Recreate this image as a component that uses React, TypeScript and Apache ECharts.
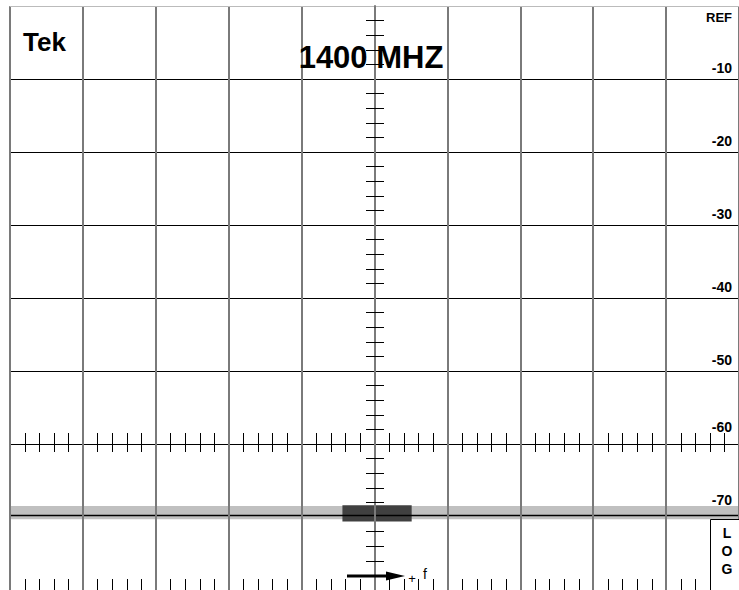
import React, { useEffect, useRef } from 'react';
import * as echarts from 'echarts';

// ---- data ----
const freqDivMin = 0;
const freqDivMax = 10;
const minorPerDiv = 5;
const levelMin = -80;
const levelMax = 0;
const levelStep = 10;
const midTickLevel = -60;
const levelTickLabels: Record<string, string> = {
  '-10': '-10', '-20': '-20', '-30': '-30', '-40': '-40', '-50': '-50', '-60': '-60', '-70': '-70',
};
const raisedLabels = ['-60', '-70'];
const traceX = [0, 10];
const traceDb = [-69.8, -69.8];
const noiseBandDb = [-68.5, -70.3];
const signalDiv = [4.56, 5.51];
const signalDb = [-68.4, -70.6];
const brandLabel = 'Tek';
const centerFreqLabel = '1400 MHZ';
const refLabel = 'REF';
const scaleLabel = ['L', 'O', 'G'];
const freqArrowLabel = ['+', 'f'];

const FONT = '"Liberation Sans", Arial, Helvetica, sans-serif';

export default function App() {
  const ref = useRef<HTMLDivElement>(null);
  useEffect(() => {
    const chart = echarts.init(ref.current!, null, { renderer: 'svg' });
    const baseY = {
      type: 'value' as const,
      min: levelMin,
      max: levelMax,
      interval: levelStep,
      axisLabel: { show: false },
      axisTick: { show: false },
      splitLine: { show: false },
    };
    const option: any = {
      animation: false,
      textStyle: { fontFamily: FONT },
      grid: { left: 10, top: 6, width: 730, height: 584, containLabel: false },
      xAxis: [
        {
          type: 'value',
          min: freqDivMin,
          max: freqDivMax,
          interval: 1,
          position: 'bottom',
          z: 4,
          axisLabel: { show: false },
          axisTick: { show: false },
          axisLine: { show: true, lineStyle: { color: '#bbbbbb', width: 1 } },
          splitLine: { show: true, lineStyle: { color: '#7a7a7a', width: 2 } },
        },
      ],
      yAxis: [
        {
          ...baseY,
          position: 'right',
          z: 0,
          axisLine: { show: false },
          splitLine: { show: true, lineStyle: { color: '#000', width: 1 } },
        },
        {
          ...baseY,
          position: 'left',
          offset: -365,
          z: 5,
          axisLine: { show: true, lineStyle: { color: '#7a7a7a', width: 2 } },
          axisTick: { show: false, inside: false },
          minorTick: { show: true, splitNumber: 5, length: 9, lineStyle: { color: '#000', width: 1 } },
        },
        {
          ...baseY,
          position: 'left',
          offset: -365,
          z: 5,
          axisLine: { show: false },
          axisTick: { show: false, inside: true },
          minorTick: { show: true, splitNumber: 5, length: 9, lineStyle: { color: '#000', width: 1 } },
        },
        {
          ...baseY,
          position: 'right',
          z: 10,
          axisLine: { show: false },
          axisLabel: {
            show: true,
            inside: true,
            margin: 7,
            verticalAlign: 'bottom',
            fontSize: 14,
            fontWeight: 'bold',
            color: '#000',
            fontFamily: FONT,
            formatter: (v: number) => {
              const t = levelTickLabels[String(v)];
              if (!t) return '';
              return raisedLabels.includes(t) ? `{h|${t}}` : `{n|${t}}`;
            },
            rich: {
              n: { fontSize: 14, fontWeight: 'bold', fontFamily: FONT, color: '#000', padding: [0, 0, 4, 0] },
              h: { fontSize: 14, fontWeight: 'bold', fontFamily: FONT, color: '#000', padding: [0, 0, 10, 0] },
            },
          },
        },
      ],
      series: [
        {
          type: 'line',
          xAxisIndex: 0,
          yAxisIndex: 0,
          z: 2,
          symbol: 'none',
          silent: true,
          lineStyle: { color: '#000', width: 1.5 },
          data: traceX.map((x, i) => [x, traceDb[i]]),
          markArea: {
            silent: true,
            data: [
              [
                { xAxis: freqDivMin, yAxis: noiseBandDb[0], itemStyle: { color: '#c0c0c0' } },
                { xAxis: freqDivMax, yAxis: noiseBandDb[1] },
              ],
              [
                { xAxis: signalDiv[0], yAxis: signalDb[0], itemStyle: { color: '#404040' } },
                { xAxis: signalDiv[1], yAxis: signalDb[1] },
              ],
            ],
          },
        },
        {
          type: 'custom',
          xAxisIndex: 0,
          yAxisIndex: 0,
          z: 4,
          silent: true,
          data: [[0, 0]],
          renderItem: (_params: any, api: any) => {
            const children: any[] = [];
            const yMid = api.coord([0, midTickLevel])[1];
            const yBot = api.coord([0, levelMin])[1];
            const st = { stroke: '#000', lineWidth: 1 };
            for (let d = freqDivMin; d < freqDivMax; d++) {
              for (let k = 1; k < minorPerDiv; k++) {
                const px = api.coord([d + k / minorPerDiv, 0])[0];
                const x = Math.round(px) + 0.5;
                children.push({ type: 'line', shape: { x1: x, y1: yMid - 11, x2: x, y2: yMid + 8 }, style: st });
                children.push({ type: 'line', shape: { x1: x, y1: yBot - 11, x2: x, y2: yBot }, style: st });
              }
            }
            return { type: 'group', children };
          },
        },
      ],
      graphic: [
        {
          type: 'text',
          left: 23,
          top: 29,
          z: 10,
          style: { text: brandLabel, font: `bold 26px ${FONT}`, fill: '#000' },
        },
        {
          type: 'text',
          x: 371,
          y: 73,
          z: 10,
          style: {
            text: centerFreqLabel,
            font: `bold 31px ${FONT}`,
            fill: '#000',
            textAlign: 'center',
            textVerticalAlign: 'bottom',
          },
        },
        {
          type: 'text',
          x: 732,
          y: 24,
          z: 10,
          style: { text: refLabel, font: `bold 13px ${FONT}`, fill: '#000', textAlign: 'right', textVerticalAlign: 'bottom' },
        },
        {
          type: 'rect',
          z: 10,
          shape: { x: 710.5, y: 519.5, width: 40, height: 80 },
          style: { fill: '#fff', stroke: '#000', lineWidth: 1 },
        },
        {
          type: 'text',
          x: 727,
          y: 524,
          z: 11,
          style: {
            text: scaleLabel.join('\n'),
            font: `bold 14px ${FONT}`,
            lineHeight: 18,
            fill: '#000',
            textAlign: 'center',
            textVerticalAlign: 'top',
          },
        },
        {
          type: 'line',
          z: 10,
          shape: { x1: 347, y1: 576, x2: 390, y2: 576 },
          style: { stroke: '#000', lineWidth: 3 },
        },
        {
          type: 'polygon',
          z: 10,
          shape: { points: [[386, 571.5], [405, 576], [386, 580.5]] },
          style: { fill: '#000' },
        },
        {
          type: 'text',
          x: 412,
          y: 578,
          z: 10,
          style: { text: freqArrowLabel[0], font: `13px ${FONT}`, fill: '#000', textAlign: 'center', textVerticalAlign: 'middle' },
        },
        {
          type: 'text',
          x: 425,
          y: 581,
          z: 10,
          style: { text: freqArrowLabel[1], font: `14px ${FONT}`, fill: '#000', textAlign: 'center', textVerticalAlign: 'bottom' },
        },
      ],
    };
    chart.setOption(option);
    return () => chart.dispose();
  }, []);
  return <div ref={ref} style={{ position: 'absolute', left: 0, top: 0, width: 739, height: 590 }} />;
}
